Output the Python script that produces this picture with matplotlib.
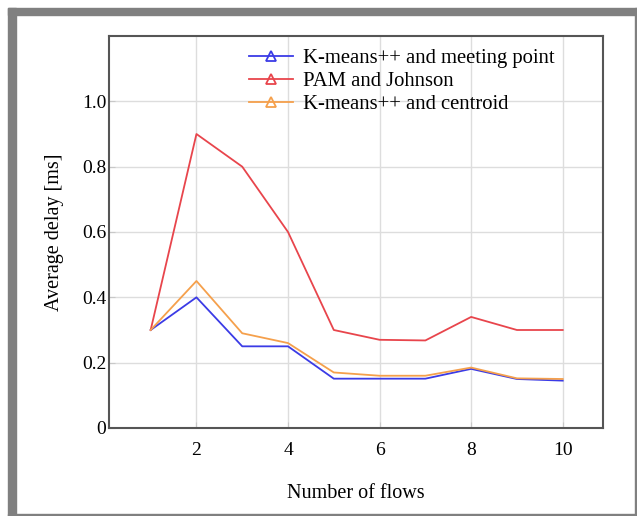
import matplotlib
matplotlib.use("Agg")
import matplotlib.pyplot as plt
from matplotlib.lines import Line2D
from matplotlib.patches import Rectangle
from matplotlib.ticker import FuncFormatter

flows = [1, 2, 3, 4, 5, 6, 7, 8, 9, 10]
kmeans_meeting = [0.30, 0.40, 0.25, 0.25, 0.151, 0.151, 0.151, 0.181, 0.15, 0.145]
pam_johnson = [0.30, 0.90, 0.80, 0.60, 0.30, 0.27, 0.268, 0.34, 0.30, 0.30]
kmeans_centroid = [0.30, 0.45, 0.29, 0.26, 0.17, 0.16, 0.16, 0.185, 0.152, 0.15]
labels = ["K-means++ and meeting point", "PAM and Johnson", "K-means++ and centroid"]
colors = ["#3b3be6", "#e8454c", "#f5a04c"]
xticks = [2, 4, 6, 8, 10]
yticks = [0, 0.2, 0.4, 0.6, 0.8, 1.0]

plt.rcParams['font.family'] = ['Liberation Serif', 'DejaVu Serif']

W, H = 637, 516
fig = plt.figure(figsize=(W / 100, H / 100), dpi=100)
fig.patch.set_facecolor("white")

# gray frame
gray = "#808080"
for (x0, y0, w, h) in [(8, 8, 8, 508), (8, 8, 629, 7), (635, 8, 2, 508), (8, 514, 629, 2)]:
    fig.patches.append(Rectangle((x0 / W, 1 - (y0 + h) / H), w / W, h / H,
                                 transform=fig.transFigure, color=gray, zorder=0))

ax = fig.add_axes([109 / W, (H - 428) / H, (603 - 109) / W, (428 - 36) / H])
series = [kmeans_meeting, pam_johnson, kmeans_centroid]
for vals, c in zip(series, colors):
    ax.plot(flows, vals, color=c, lw=1.3, zorder=3)

ax.set_xlim(0.09, 10.88)
ax.set_ylim(0, 1.2)
ax.set_xticks(xticks)
ax.set_yticks(yticks)
ax.yaxis.set_major_formatter(FuncFormatter(lambda v, p: "0" if v == 0 else f"{v:.1f}"))
ax.grid(True, color="#dddddd", lw=1.0, zorder=0)
ax.tick_params(axis='both', labelsize=14, color="#c8c8c8", length=4, direction='in')
ax.tick_params(axis='x', pad=10)
ax.tick_params(axis='y', pad=2)
for s in ax.spines.values():
    s.set_color("#555555")
    s.set_linewidth(1.5)

ax.set_xlabel("Number of flows", fontsize=14.5, labelpad=18)
ax.set_ylabel("Average delay [ms]", fontsize=14.5, labelpad=13)

handles = [Line2D([], [], color=c, lw=1.3, marker='^', markersize=7,
                  markerfacecolor='none', markeredgewidth=1.3) for c in colors]
leg = ax.legend(handles, labels, loc='upper left', bbox_to_anchor=((248 - 109) / (603 - 109) - 0.024, 1.0),
                frameon=False, fontsize=14.9, handlelength=2.15, handletextpad=0.5,
                labelspacing=0.18, borderaxespad=0.2)

fig.savefig("out.png", dpi=100, facecolor=fig.get_facecolor())
